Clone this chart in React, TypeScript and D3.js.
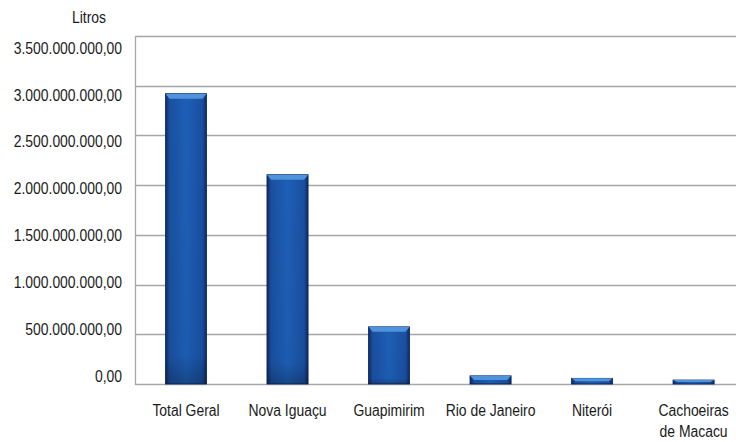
import * as d3 from "d3";
import { useRef, useEffect } from "react";

const categories: string[][] = [
  ["Total Geral"],
  ["Nova Iguaçu"],
  ["Guapimirim"],
  ["Rio de Janeiro"],
  ["Niterói"],
  ["Cachoeiras", "de Macacu"],
];
const litros: number[] = [2920000000, 2105000000, 575000000, 82000000, 57000000, 40000000];
const yTicks: number[] = [0, 500000000, 1000000000, 1500000000, 2000000000, 2500000000, 3000000000, 3500000000];
const yTitle = "Litros";

const fmt = (v: number) =>
  d3.format(",.2f")(v).replace(/,/g, "#").replace(".", ",").replace(/#/g, ".");

export default function App() {
  const svgRef: any = useRef();

  useEffect(() => {
    const w = 736;
    const h = 442;
    const svg = d3.select(svgRef.current).attr("width", w).attr("height", h);
    svg.selectAll("*").remove();

    // no condensed font installed, so squeeze Liberation Sans a bit
    const font = "'Liberation Sans', Arial, sans-serif";
    const squeeze = 0.87;
    const left = 135;
    const top = 36;
    const bottom = 384;

    const x: any = d3
      .scaleBand()
      .domain(categories.map((c) => c.join(" ")))
      .range([left, left + 6 * 101.6])
      .paddingInner(0.595)
      .paddingOuter(0.3);
    const y = d3.scaleLinear().domain([0, 3500000000]).range([bottom, top]);
    // tick labels sit on their own slightly tighter spacing in the original
    const yLabel = d3.scaleLinear().domain([0, 3500000000]).range([376, 48]);

    //gradients
    const defs = svg.append("defs");
    const gH = defs.append("linearGradient").attr("id", "barH").attr("x1", 0).attr("x2", 1).attr("y1", 0).attr("y2", 0);
    gH.append("stop").attr("offset", "0%").attr("stop-color", "#0c2a66");
    gH.append("stop").attr("offset", "10%").attr("stop-color", "#1a4f9f");
    gH.append("stop").attr("offset", "50%").attr("stop-color", "#1d5fb6");
    gH.append("stop").attr("offset", "90%").attr("stop-color", "#1a4f9f");
    gH.append("stop").attr("offset", "100%").attr("stop-color", "#0c2a66");
    const gV = defs.append("linearGradient").attr("id", "barV").attr("x1", 0).attr("x2", 0).attr("y1", 0).attr("y2", 1);
    gV.append("stop").attr("offset", "0%").attr("stop-color", "#000").attr("stop-opacity", 0);
    gV.append("stop").attr("offset", "90%").attr("stop-color", "#000").attr("stop-opacity", 0.03);
    gV.append("stop").attr("offset", "100%").attr("stop-color", "#000").attr("stop-opacity", 0.25);

    //grid
    svg
      .append("g")
      .selectAll("line")
      .data(yTicks)
      .join("line")
      .attr("x1", left)
      .attr("x2", w)
      .attr("y1", (d) => Math.round(y(d)) + 0.5)
      .attr("y2", (d) => Math.round(y(d)) + 0.5)
      .attr("stroke", "#a6a6a6")
      .attr("stroke-width", 1.3);
    svg
      .append("line")
      .attr("x1", left + 0.5)
      .attr("x2", left + 0.5)
      .attr("y1", top)
      .attr("y2", bottom + 1)
      .attr("stroke", "#a6a6a6")
      .attr("stroke-width", 1.3);

    //y labels
    svg
      .append("g")
      .selectAll("text")
      .data(yTicks)
      .join("text")
      .attr("transform", (d) => `translate(122, ${yLabel(d)}) scale(${squeeze}, 1)`)
      .attr("dy", "0.36em")
      .attr("text-anchor", "end")
      .attr("font-family", font)
      .attr("font-size", 16)
      .attr("fill", "#1a1a1a")
      .text((d) => fmt(d));
    svg
      .append("text")
      .attr("transform", `translate(89, 17) scale(${squeeze}, 1)`)
      .attr("dy", "0.36em")
      .attr("text-anchor", "middle")
      .attr("font-family", font)
      .attr("font-size", 16)
      .attr("fill", "#1a1a1a")
      .text(yTitle);

    //bars
    const bars = svg
      .append("g")
      .selectAll("g")
      .data(litros)
      .join("g")
      .attr("transform", (d, i) => `translate(${x(categories[i].join(" "))}, ${y(d)})`);
    const bw = x.bandwidth();
    bars
      .append("rect")
      .attr("width", bw)
      .attr("height", (d) => bottom - y(d))
      .attr("fill", "url(#barH)")
      .attr("stroke", "#0a2356")
      .attr("stroke-width", 0.8);
    bars
      .append("rect")
      .attr("width", bw)
      .attr("height", (d) => bottom - y(d))
      .attr("fill", "url(#barV)");
    bars
      .append("path")
      .attr("d", (d) => {
        const hh = Math.min(5, (bottom - y(d)) / 2);
        return `M0,0 L${bw},0 L${bw - 4},${hh} L4,${hh} Z`;
      })
      .attr("fill", "#4f93dc");

    //x labels
    const lab = svg
      .append("g")
      .selectAll("text")
      .data(categories)
      .join("text")
      .attr("transform", (d) => `translate(${x(d.join(" ")) + bw / 2}, 410) scale(${squeeze}, 1)`)
      .attr("text-anchor", "middle")
      .attr("font-family", font)
      .attr("font-size", 16)
      .attr("fill", "#1a1a1a");
    lab
      .selectAll("tspan")
      .data((d) => d)
      .join("tspan")
      .attr("x", 0)
      .attr("dy", (d, i) => (i === 0 ? "0.36em" : "1.3em"))
      .text((d) => d);
  }, []);

  return (
    <div style={{ position: "absolute", left: 0, top: 0 }}>
      <svg ref={svgRef}></svg>
    </div>
  );
}
